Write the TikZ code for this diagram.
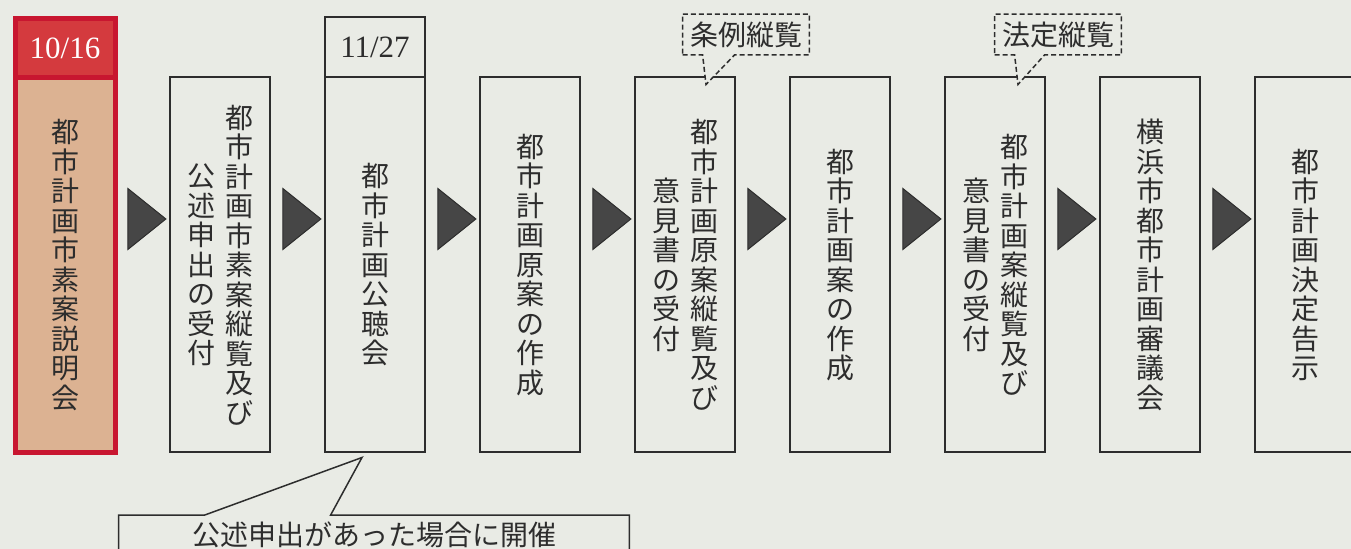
\documentclass[tikz,border=0pt]{standalone}
\usepackage{fontspec}
\setmainfont{Liberation Serif}
\newfontfamily\jp{Noto Sans CJK JP}
\usetikzlibrary{shapes.geometric,positioning,calc}

\definecolor{paper}{RGB}{233,235,229}
\definecolor{ink}{RGB}{45,45,45}
\definecolor{akabeni}{RGB}{200,22,48}
\definecolor{akahead}{RGB}{212,58,62}
\definecolor{hada}{RGB}{220,178,146}
\definecolor{sankaku}{RGB}{70,70,70}

% vertical text: one character per line
\makeatletter
\newcommand\tate[1]{$\vcenter{\@tfor\tch:=#1\do{\hbox to 1em{\hss\tch\hss}}}$}
\makeatother

\tikzset{
  stepbox/.style={rectangle, draw=ink, line width=1pt, fill=paper, minimum width=50pt, minimum height=187.5pt, inner sep=0pt, outer sep=0pt, text=ink, font=\jp\fontsize{14}{14.75}\selectfont},
  redbox/.style={stepbox, draw=akabeni, fill=hada, line width=2.5pt},
  datehead/.style={rectangle, draw=ink, line width=1pt, fill=paper, minimum width=50pt, minimum height=30pt, inner sep=0pt, outer sep=0pt, text=ink, font=\fontsize{15.5}{18}\selectfont},
  redhead/.style={datehead, draw=akabeni, fill=akahead, text=white, line width=2.5pt, minimum height=29.5pt},
  tri/.style={isosceles triangle, isosceles triangle stretches, fill=sankaku, draw=ink, line width=0.5pt, minimum width=30.5pt, minimum height=19pt, inner sep=0pt},
  notebox/.style={inner sep=0pt, minimum width=63pt, minimum height=20pt, text=ink, font=\jp\fontsize{14}{16}\selectfont},
  bubble/.style={draw=ink, dash pattern=on 2.5pt off 1.5pt, line width=0.75pt},
  notice/.style={inner sep=0pt, minimum width=255pt, minimum height=19pt, text=ink, font=\jp\fontsize{14}{16}\selectfont}
}

\begin{document}
\begin{tikzpicture}[x=0.5pt, y=-0.5pt, node distance=27.5pt]
  \useasboundingbox (0,0) rectangle (1351,549);
  \fill[paper] (0,0) rectangle (1351,549);

  % steps
  \node[redbox] (s1) at (65,265) {\tate{都市計画市素案説明会}};
  \node[stepbox, right=of s1] (s2) {\tate{公述申出の受付}\hspace{5pt}\tate{都市計画市素案縦覧及び}};
  \node[stepbox, right=of s2] (s3) {\tate{都市計画公聴会}};
  \node[stepbox, right=of s3] (s4) {\tate{都市計画原案の作成}};
  \node[stepbox, right=of s4] (s5) {\tate{意見書の受付}\hspace{5pt}\tate{都市計画原案縦覧及び}};
  \node[stepbox, right=of s5] (s6) {\tate{都市計画案の作成}};
  \node[stepbox, right=of s6] (s7) {\tate{意見書の受付}\hspace{5pt}\tate{都市計画案縦覧及び}};
  \node[stepbox, right=of s7] (s8) {\tate{横浜市都市計画審議会}};
  \node[stepbox, right=of s8] (s9) {\tate{都市計画決定告示}};

  % dates
  \node[redhead, above=0pt of s1] (d1) {10/16};
  \node[datehead, above=0pt of s3] (d3) {11/27};

  \foreach \a/\b in {s1/s2,s2/s3,s3/s4,s4/s5,s5/s6,s6/s7,s7/s8,s8/s9}
    \node[tri] (to-\b) at ($(\a.east)!.5!(\b.west)+(0,-46)$) {};

  % dashed callouts
  \node[notebox] (jourei) at ($(s5.north)+(61,-43)$) {条例縦覧};
  \coordinate (jourei-l) at ($(jourei.south west)+(20,0)$);
  \coordinate (jourei-r) at ($(jourei.south west)+(52,0)$);
  \coordinate (jourei-tip) at ($(s5.north)+(21,7)$);
  \fill[paper] (jourei-l) -- (jourei-tip) -- (jourei-r) -- cycle;
  \draw[bubble] (jourei.south west) -- (jourei-l) -- (jourei-tip) -- (jourei-r) -- (jourei.south east) -- (jourei.north east) -- (jourei.north west) -- cycle;

  \node[notebox] (houtei) at ($(s7.north)+(63,-43)$) {法定縦覧};
  \coordinate (houtei-l) at ($(houtei.south west)+(20,0)$);
  \coordinate (houtei-r) at ($(houtei.south west)+(50,0)$);
  \coordinate (houtei-tip) at ($(s7.north)+(23,7)$);
  \fill[paper] (houtei-l) -- (houtei-tip) -- (houtei-r) -- cycle;
  \draw[bubble] (houtei.south west) -- (houtei-l) -- (houtei-tip) -- (houtei-r) -- (houtei.south east) -- (houtei.north east) -- (houtei.north west) -- cycle;

  % note under the hearing
  \node[notice] (kaisai) at ($(s3.south)+(-1,82)$) {公述申出があった場合に開催};
  \coordinate (kaisai-l) at ($(kaisai.north west)+(86,0)$);
  \coordinate (kaisai-r) at ($(kaisai.north west)+(212,0)$);
  \coordinate (kaisai-tip) at ($(s3.south)+(-13,5)$);
  \draw[ink, line width=0.75pt] (kaisai.north west) -- (kaisai-l) -- (kaisai-tip) -- (kaisai-r) -- (kaisai.north east) -- (kaisai.south east) -- (kaisai.south west) -- cycle;
\end{tikzpicture}
\end{document}
